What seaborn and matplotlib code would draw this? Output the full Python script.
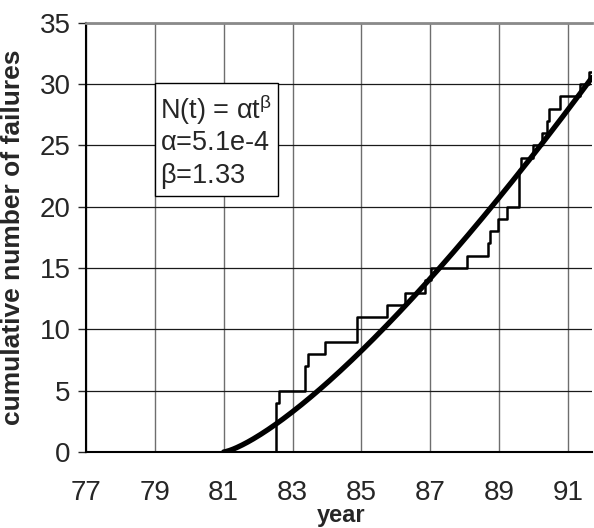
import numpy as np
import matplotlib.pyplot as plt
import seaborn as sns
import pandas as pd
from matplotlib.patches import Rectangle

# Observed failures: decimal year and cumulative count after the failure
fail_year = [77.0, 82.52, 82.60, 83.36, 83.45, 83.94, 84.86, 85.73, 86.27,
             86.86, 87.03, 88.07, 88.68, 88.73, 88.97, 89.23, 89.57, 89.63,
             89.98, 90.24, 90.40, 90.46, 90.76, 91.36, 91.62, 91.70]
fail_count = [0, 4, 5, 7, 8, 9, 11, 12, 13, 14, 15, 16, 17, 18, 19, 20, 23,
              24, 25, 26, 27, 28, 29, 30, 31, 31]

# Power law model N(t) = alpha * t^beta, t in days since start of 1981
alpha = 5.1e-4
beta = 1.33
t0_year = 81.0
x_ticks = [77, 79, 81, 83, 85, 87, 89, 91]
y_ticks = [0, 5, 10, 15, 20, 25, 30, 35]

steps = pd.DataFrame({'year': fail_year, 'n': fail_count})
model_year = np.linspace(t0_year, 91.7, 200)
model = pd.DataFrame({'year': model_year,
                      'n': alpha * ((model_year - t0_year) * 365.25) ** beta})

sns.set_style('white')
plt.rcParams['font.family'] = ['Liberation Sans', 'DejaVu Sans']

fig = plt.figure(figsize=(5.94, 5.28), dpi=100)
ax = fig.add_axes([0.1448, 0.144, 0.852, 0.813])

for x in x_ticks:
    ax.axvline(x, color='#6e6e6e', lw=1.0, zorder=0)
for y in y_ticks:
    ax.axhline(y, color='#1a1a1a', lw=0.9, zorder=0)

sns.lineplot(data=steps, x='year', y='n', drawstyle='steps-post', color='black',
             lw=1.8, estimator=None, sort=False, ax=ax, zorder=3)
sns.lineplot(data=model, x='year', y='n', color='black', lw=3.8,
             estimator=None, ax=ax, zorder=4)

ax.set_xlim(77, 91.7)
ax.set_ylim(0, 35)
ax.set_xticks(x_ticks)
ax.set_yticks(y_ticks)
ax.tick_params(axis='x', length=0, pad=20, labelsize=20)
ax.tick_params(axis='y', length=6, width=1, direction='out', pad=5, labelsize=20, left=True)
ax.set_xlabel('year', fontsize=17, fontweight='bold')
ax.xaxis.set_label_coords(0.505, -0.163)
ax.xaxis.label.set_va('baseline')
ax.set_ylabel('cumulative number of failures', fontsize=19, fontweight='bold', labelpad=0)
ax.yaxis.set_label_coords(-0.12, 0.5)

for side in ['left', 'bottom']:
    ax.spines[side].set_color('black')
    ax.spines[side].set_linewidth(1.5)
ax.spines['top'].set_color('#8a8a8a')
ax.spines['top'].set_linewidth(2)
ax.spines['right'].set_visible(False)

# Equation box
ax.add_patch(Rectangle((79.0, 20.9), 3.58, 9.17, facecolor='white',
                       edgecolor='black', lw=1.0, zorder=5))
ax.text(79.15, 27.9, r'N(t) = $\mathregular{\alpha t^{\beta}}$', fontsize=19.5,
        va='center', ha='left', zorder=6)
ax.text(79.15, 25.2, r'$\mathregular{\alpha}$=5.1e-4', fontsize=19.5,
        va='center', ha='left', zorder=6)
ax.text(79.15, 22.5, r'$\mathregular{\beta}$=1.33', fontsize=19.5,
        va='center', ha='left', zorder=6)

fig.savefig('out.png', dpi=100)
